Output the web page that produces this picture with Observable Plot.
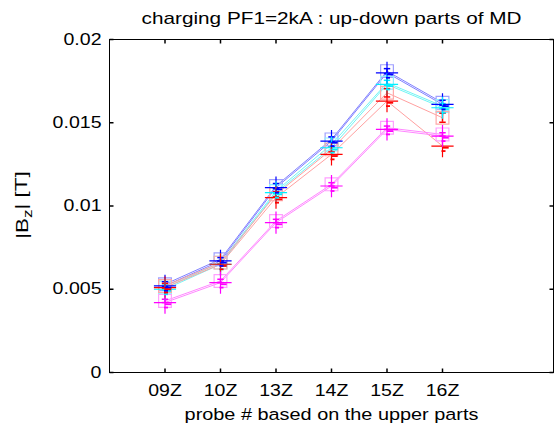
<!DOCTYPE html>
<html><head><meta charset="utf-8">
<script src="https://cdn.jsdelivr.net/npm/d3@7"></script>
<script src="https://cdn.jsdelivr.net/npm/@observablehq/plot@0.6"></script>
<style>body{margin:0;background:#fff}</style>
</head><body><div id="chart"></div>
<script>
// ---- data ----
const probes = ["09Z","10Z","13Z","14Z","15Z","16Z"];
const probePos = [1, 2, 3, 4, 5, 6];
const yTicks = [0, 0.005, 0.01, 0.015, 0.02];
const yTickLabels = ["0", "0.005", "0.01", "0.015", "0.02"];
const titleText = "charging PF1=2kA : up-down parts of MD";
const xLabelText = "probe # based on the upper parts";

const blueUp      = [0.0053, 0.0068, 0.0112, 0.0140, 0.0181, 0.0162];
const blueDown    = [0.0052, 0.0067, 0.0111, 0.0139, 0.0180, 0.0161];
const cyanUp      = [0.0051, 0.0066, 0.0109, 0.0137, 0.0174, 0.0160];
const cyanDown    = [0.0050, 0.0065, 0.0108, 0.0135, 0.0173, 0.0159];
const redUp       = [0.0052, 0.0066, 0.0107, 0.0134, 0.0168, 0.0153];
const redDown     = [0.0051, 0.0065, 0.0105, 0.0131, 0.0163, 0.0136];
const magentaUp   = [0.0043, 0.0055, 0.0091, 0.0113, 0.0147, 0.0143];
const magentaDown = [0.0042, 0.0054, 0.0090, 0.0112, 0.0146, 0.0142];

const blueUpErr      = [0.00015, 0.0001, 0.00015, 0.00015, 0.00015, 0.00015];
const blueDownErr    = [0.0001, 0.0001, 0.0001, 0.0001, 0.0001, 0.0001];
const cyanUpErr      = [0.00015, 0.0001, 0.00015, 0.00015, 0.00015, 0.00015];
const cyanDownErr    = [0.0001, 0.0001, 0.0001, 0.0001, 0.0001, 0.0001];
const redUpErr       = [0.00015, 0.0001, 0.00015, 0.00015, 0.00025, 0.00027];
const redDownErr     = [0.0001, 0.0001, 0.0001, 0.0001, 0.0001, 0.0001];
const magentaUpErr   = [0.0001, 0.0001, 0.0001, 0.0001, 0.0001, 0.0001];
const magentaDownErr = [0.0001, 0.0001, 0.0001, 0.0001, 0.0001, 0.0001];

const colorNames = ["blue", "cyan", "red", "magenta"];
const darkColors  = ["#0000ff", "#00f0ff", "#ff0000", "#ff00ff"];
const lineColors  = ["#8080ff", "#70f5f5", "#ffa0a0", "#ff88ff"];
const boxColors   = ["#a0a0ff", "#90f0ff", "#ffa8a8", "#ffa0ff"];

const upSeries   = [blueUp, cyanUp, redUp, magentaUp];
const downSeries = [blueDown, cyanDown, redDown, magentaDown];
const upErrs     = [blueUpErr, cyanUpErr, redUpErr, magentaUpErr];
const downErrs   = [blueDownErr, cyanDownErr, redDownErr, magentaDownErr];

// ---- table ----
const rows = [];
colorNames.forEach((c, ci) => {
  [["up", upSeries[ci], upErrs[ci]], ["down", downSeries[ci], downErrs[ci]]].forEach(([part, vals, errs]) => {
    vals.forEach((v, i) => rows.push({
      series: c + "-" + part, part, ci, x: probePos[i], y: v, err: errs[i]
    }));
  });
});
const upRows = rows.filter(d => d.part === "up");
const downRows = rows.filter(d => d.part === "down");

// ---- custom line symbols (sizes in px via r) ----
const len = s => Math.sqrt(s / Math.PI);
const hLine  = {draw(c, s) { const r = len(s); c.moveTo(-r, 0); c.lineTo(r, 0); }};
const tickUp = {draw(c, s) { const r = len(s); c.moveTo(0, 0); c.lineTo(0, -r); }};
const tickDn = {draw(c, s) { const r = len(s); c.moveTo(0, 0); c.lineTo(0, r); }};
const tickRt = {draw(c, s) { const r = len(s); c.moveTo(0, 0); c.lineTo(r, 0); }};
const tickLf = {draw(c, s) { const r = len(s); c.moveTo(0, 0); c.lineTo(-r, 0); }};

const FONT = "'Liberation Sans', Arial, sans-serif";
const FS = 16;

const chart = Plot.plot({
  width: 555,
  height: 425,
  marginTop: 39,
  marginBottom: 53,
  marginLeft: 109,
  marginRight: 2,
  style: {fontFamily: FONT, fontSize: FS + "px", background: "#fff", color: "#000", overflow: "visible"},
  x: {domain: [0, 8]},
  y: {domain: [0, 0.02]},
  marks: [
    // lines
    Plot.line(rows, {x: "x", y: "y", z: "series", stroke: d => lineColors[d.ci], strokeWidth: 1}),
    // up: light squares + dark error bars
    Plot.dot(upRows, {x: "x", y: "y", symbol: "square", r: 7.2, fill: "none", stroke: d => boxColors[d.ci], strokeWidth: 1.2}),
    Plot.ruleX(upRows, {x: "x", y1: d => d.y - d.err, y2: d => d.y + d.err, stroke: d => darkColors[d.ci], strokeWidth: 1.5}),
    Plot.dot(upRows, {x: "x", y: d => d.y + d.err, symbol: hLine, r: 3.2, fill: "none", stroke: d => darkColors[d.ci], strokeWidth: 1.5}),
    Plot.dot(upRows, {x: "x", y: d => d.y - d.err, symbol: hLine, r: 3.2, fill: "none", stroke: d => darkColors[d.ci], strokeWidth: 1.5}),
    // down: dark plus + small caps
    Plot.dot(downRows, {x: "x", y: "y", symbol: "plus", r: 7.2, fill: "none", stroke: d => darkColors[d.ci], strokeWidth: 1.2}),
    Plot.dot(downRows, {x: "x", y: d => d.y - d.err, symbol: hLine, r: 3.2, dx: 3, fill: "none", stroke: d => darkColors[d.ci], strokeWidth: 1.8}),
    Plot.dot(downRows, {x: "x", y: d => d.y - 3 * d.err, symbol: hLine, r: 2, dx: 1, fill: "none", stroke: d => darkColors[d.ci], strokeWidth: 1.8}),
    // frame and inward ticks
    Plot.frame({stroke: "#000", strokeWidth: 1}),
    Plot.dot(probePos, {x: d => d, frameAnchor: "bottom", symbol: tickUp, r: 4, stroke: "#000", fill: "none"}),
    Plot.dot(probePos, {x: d => d, frameAnchor: "top", symbol: tickDn, r: 4, stroke: "#000", fill: "none"}),
    Plot.dot(yTicks, {y: d => d, frameAnchor: "left", symbol: tickRt, r: 4, stroke: "#000", fill: "none"}),
    Plot.dot(yTicks, {y: d => d, frameAnchor: "right", symbol: tickLf, r: 4, stroke: "#000", fill: "none"}),
    // axes labels
    Plot.axisX({ticks: probePos, tickFormat: (d, i) => probes[i], tickSize: 0, tickPadding: 12, label: null, fontSize: FS}),
    Plot.axisY({ticks: yTicks, tickFormat: (d, i) => yTickLabels[i], tickSize: 0, tickPadding: 8, label: null, fontSize: FS}),
    // title and x label
    Plot.text([titleText], {frameAnchor: "top", dy: -21, fontSize: 17, text: d => d, lineAnchor: "middle"}),
    Plot.text([xLabelText], {frameAnchor: "bottom", dy: 42, fontSize: 16.3, text: d => d, lineAnchor: "middle"})
  ]
});
document.getElementById("chart").appendChild(chart);

// wide glyphs, as in the reference
const S = 1.22;
chart.querySelectorAll("text").forEach(t => {
  const L = t.getComputedTextLength();
  if (L > 0) {
    t.setAttribute("textLength", (L * S).toFixed(1));
    t.setAttribute("lengthAdjust", "spacingAndGlyphs");
  }
});

// y label with subscript (stretched along its direction)
const svg = d3.select(chart);
const yl = svg.append("text")
  .attr("transform", `translate(24,205) rotate(-90) scale(${S * 1.08},1)`)
  .attr("text-anchor", "middle")
  .attr("dominant-baseline", "middle")
  .style("font-family", FONT)
  .style("font-size", "17px")
  .attr("fill", "#000");
yl.append("tspan").text("|B");
yl.append("tspan").attr("font-size", "13px").attr("dy", "0.35em").text("z");
yl.append("tspan").attr("dy", "-0.35em").text("| [T]");
</script>
</body></html>
